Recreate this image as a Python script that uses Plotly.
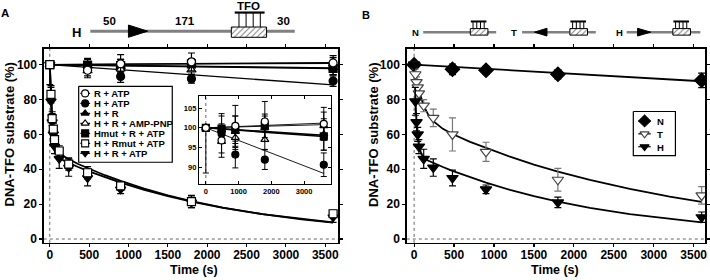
import plotly.graph_objects as go

W, H = 710, 280
FONT = "Liberation Sans, Arial, sans-serif"

# ---------------- data ----------------
# Panel A: control reactions (main panel + inset)
ctrl_t = [0, 480, 900, 1800, 3600]
r_atp = [100, 96.8, 100.5, 101.6, 101.0]
r_atp_err = [0.4, 3.2, 5.2, 5.1, 4.2]
h_atp = [100, 98.5, 93.2, 91.9, 90.6]
h_atp_err_up = [0.4, 2.5, 3.4, 2.5, 3.0]
h_atp_err_dn = [11.5, 2.5, 3.4, 2.5, 3.0]
h_r = [100, 99.5, 99.0, 100.0, 98.3]
h_r_err = [0.4, 3.5, 4.0, 3.0, 4.0]
amp_pnp = [100, 96.5, 97.5, 97.0, 100.5]
amp_pnp_err = [0.4, 4.0, 3.0, 2.5, 3.5]
hmut = [100, 99.8, 99.5, 100.5, 97.8]
hmut_err = [0.4, 3.8, 3.5, 3.0, 3.5]

ctrl_fit_t = [0, 3600]
r_atp_fit = [100, 101.2]
h_atp_fit = [100, 88.4]
h_r_fit = [100, 98.1]
amp_pnp_fit = [100, 100.8]
hmut_fit = [100, 97.8]

# Panel A: displacement kinetics
kin_t = [0, 15, 30, 45, 60, 120, 240, 480, 900, 1800, 3600]
h_r_atp = [100, 79, 67, 60, 53, 46, 41, 35, 28.5, 21, 12.5]
h_r_atp_err = [0.4, 8, 5, 4, 4, 5.5, 5, 4.5, 2.5, 3, 3]
h_rmut_atp = [100, 83, 69, 63, 57, 50.5, 43, 38, 30.5, 21.5, 14.5]
h_rmut_atp_err = [0.4, 5, 4, 3.5, 3.5, 3, 3.5, 3.5, 2.5, 3.5, 2]

# Panel B
n_t = [0, 480, 900, 1800, 3600]
n_sub = [100, 97.3, 96.8, 94.5, 91.0]
n_err = [1.0, 3.0, 2.2, 2.7, 4.2]
t_sub = [100, 94.5, 90, 87, 83.5, 76.5, 69.5, 60, 50, 34, 25]
t_err = [0.4, 3, 3, 3, 3.5, 3.5, 5, 9.5, 5.5, 6.5, 5]
h_sub = [100, 79, 67, 60, 53, 46, 41, 35, 28.5, 21, 12.5]
h_err = [0.4, 8, 5, 4, 4, 5.5, 5, 4.5, 2.5, 3, 3]

# fitted curves
fit_t = [0, 10, 20, 30, 45, 60, 90, 120, 180, 240, 360, 480, 700, 900,
         1200, 1500, 1800, 2200, 2700, 3200, 3600]
h_fit = [100, 84.7, 73.8, 66.0, 58.3, 53.7, 48.9, 46.8, 44.9, 43.6, 41.3,
         39.1, 35.4, 32.3, 28.2, 24.6, 21.5, 17.9, 14.3, 11.4, 9.5]
rmut_fit = [100, 88, 78, 71, 63.5, 58.5, 53, 50.5, 47.5, 45.8, 43, 40.6,
            36.6, 33.3, 28.9, 25.1, 21.8, 18.0, 14.3, 11.3, 9.4]
t_fit = [100, 97.0, 94.1, 91.6, 88.2, 85.2, 80.3, 76.4, 71.1, 67.6, 63.2,
         60.2, 55.7, 52.2, 47.2, 42.7, 38.7, 33.9, 28.7, 24.3, 21.3]
n_fit_t = [0, 1800, 3600]
n_fit = [100, 95.1, 90.5]

x_ticks_main = [0, 500, 1000, 1500, 2000, 2500, 3000, 3500]
y_ticks_main = [0, 20, 40, 60, 80, 100]
x_ticks_inset = [0, 1000, 2000, 3000]
y_ticks_inset = [90, 95, 100, 105]

legend_a_labels = ["R + ATP", "H + ATP", "H + R", "H + R + AMP-PNP",
                   "Hmut + R + ATP", "H + Rmut + ATP", "H + R + ATP"]
legend_b_labels = ["N", "T", "H"]

# ---------------- figure ----------------
fig = go.Figure()
BLACK = "black"


def errbar(arr, minus=None, color=BLACK, width=3.5, thick=1.2):
    d = dict(type="data", array=arr, visible=True, color=color,
             thickness=thick, width=width)
    if minus is not None:
        d["symmetric"] = False
        d["arrayminus"] = minus
    return d


def line(x, y, xa, ya, w=1.8, color=BLACK):
    fig.add_trace(go.Scatter(x=x, y=y, mode="lines", xaxis=xa, yaxis=ya,
                             line=dict(color=color, width=w),
                             showlegend=False, hoverinfo="skip"))


def pts(x, y, xa, ya, symbol, fill, size, err, lc=BLACK):
    fig.add_trace(go.Scatter(x=x, y=y, mode="markers", xaxis=xa, yaxis=ya,
                             marker=dict(symbol=symbol, color=fill, size=size,
                                         line=dict(color=lc, width=1.2)),
                             error_y=err, showlegend=False))


# ---- Panel A main ----
for fy, w in [(h_atp_fit, 1.3), (h_r_fit, 1.5), (hmut_fit, 1.5),
              (amp_pnp_fit, 1.3), (r_atp_fit, 1.3)]:
    line(ctrl_fit_t, fy, "x", "y", w)
line(fit_t, h_fit, "x", "y", 1.8)
line(fit_t, rmut_fit, "x", "y", 1.8)

ctrl_series = [
    (h_atp, errbar(h_atp_err_up, h_atp_err_dn), "circle", BLACK),
    (h_r, errbar(h_r_err), "triangle-up", BLACK),
    (hmut, errbar(hmut_err), "square", BLACK),
    (amp_pnp, errbar(amp_pnp_err), "triangle-up", "white"),
    (r_atp, errbar(r_atp_err), "circle", "white"),
]
for yv, e, sym, fc in ctrl_series:
    pts(ctrl_t, yv, "x", "y", sym, fc, 8, e)
pts(kin_t, h_r_atp, "x", "y", "triangle-down", BLACK, 9, errbar(h_r_atp_err))
pts(kin_t, h_rmut_atp, "x", "y", "square", "white", 8, errbar(h_rmut_atp_err))

# ---- Panel B ----
line(n_fit_t, n_fit, "x2", "y2", 1.8)
line(fit_t, t_fit, "x2", "y2", 1.8)
line(fit_t, h_fit, "x2", "y2", 1.8)
pts(n_t, n_sub, "x2", "y2", "diamond", BLACK, 11, errbar(n_err))
pts(kin_t, t_sub, "x2", "y2", "triangle-down", "white", 10,
    errbar(t_err, color="#777777"), lc="#444444")
pts(kin_t, h_sub, "x2", "y2", "triangle-down", BLACK, 10, errbar(h_err))

# ---- Inset ----
for fy, w in [(h_atp_fit, 0.9), (h_r_fit, 1.6), (hmut_fit, 1.6),
              (amp_pnp_fit, 0.9), (r_atp_fit, 0.9)]:
    line(ctrl_fit_t, fy, "x3", "y3", w)
ctrl_series_in = [
    (h_atp, errbar(h_atp_err_up, h_atp_err_dn, width=3, thick=1), "circle", BLACK),
    (h_r, errbar(h_r_err, width=3, thick=1), "triangle-up", BLACK),
    (hmut, errbar(hmut_err, width=3, thick=1), "square", BLACK),
    (amp_pnp, errbar(amp_pnp_err, width=3, thick=1), "triangle-up", "white"),
    (r_atp, errbar(r_atp_err, width=3, thick=1), "circle", "white"),
]
for yv, e, sym, fc in ctrl_series_in:
    pts(ctrl_t, yv, "x3", "y3", sym, fc, 7, e)

# ---- overlay (pixel coordinates) for diagrams and legend keys ----
def ov_trace(**kw):
    kw.setdefault("showlegend", False)
    kw.setdefault("hoverinfo", "skip")
    fig.add_trace(go.Scatter(xaxis="x4", yaxis="y4", **kw))


def hatched_box(x0, x1, y0, y1):
    ov_trace(x=[x0, x1, x1, x0, x0], y=[y0, y0, y1, y1, y0], mode="lines",
             fill="toself", fillcolor="white",
             fillpattern=dict(shape="/", fgcolor="black", bgcolor="white",
                              size=4, solidity=0.25),
             line=dict(color="black", width=1))


shapes = []


def seg(x0, y0, x1, y1, color="black", w=1, layer="above", dash=None):
    d = dict(type="line", xref="x4", yref="y4", x0=x0, y0=y0, x1=x1, y1=y1,
             line=dict(color=color, width=w), layer=layer)
    if dash:
        d["line"]["dash"] = dash
    shapes.append(d)


def tri(points, layer="above"):
    p = "M " + " L ".join(f"{a},{b}" for a, b in points) + " Z"
    shapes.append(dict(type="path", xref="x4", yref="y4", path=p,
                       fillcolor="black", line=dict(color="black", width=1),
                       layer=layer))


def comb(x0, x1, ytop, ybox, n=4, w=2.2):
    seg(x0, ytop, x1, ytop, w=w)
    step = (x1 - x0) / (n + 0.2)
    for i in range(n):
        xx = x0 + step * (i + 0.6)
        seg(xx, ytop, xx, ybox, w=1)


GRAY = "#808080"
# Panel A diagram
seg(90.7, 31.7, 296, 31.7, color=GRAY, w=3, layer="below")
tri([(129, 25.3), (148.3, 31.5), (129, 37.7)])
hatched_box(232.3, 267.7, 27.3, 37.7)
comb(235.7, 265.7, 12.7, 27.3)

# Panel B diagrams
yB = 32.5
for (lx0, lx1, bx0) in [(425, 498.3, 472.3), (524.3, 598.3, 572.3),
                        (629.3, 703.3, 675.7)]:
    seg(lx0, yB, lx1, yB, color=GRAY, w=2.5, layer="below")
    hatched_box(bx0, bx0 + 17.7, 28.9, 35.5)
    comb(bx0 + 0.5, bx0 + 16.2, 21.7, 28.9, w=2)
tri([(536.7, yB), (549.3, 28.6), (549.3, 36.4)])
tri([(640.3, 28.6), (653.5, yB), (640.3, 36.4)])

# Legend A box and keys
ov_trace(x=[79, 173, 173, 79, 79], y=[87.3, 87.3, 164, 164, 87.3],
         mode="lines", fill="toself", fillcolor="white",
         line=dict(color="black", width=1.2))
key_a = [("circle", "white"), ("circle", BLACK), ("triangle-up", BLACK),
         ("triangle-up", "white"), ("square", BLACK), ("square", "white"),
         ("triangle-down", BLACK)]
annotations = []
for i, (lab, (sym, fc)) in enumerate(zip(legend_a_labels, key_a)):
    yy = 94.4 + 10.1 * i
    ov_trace(x=[80.7, 90.5], y=[yy, yy], mode="lines",
             line=dict(color="black", width=1.2))
    ov_trace(x=[85.5], y=[yy], mode="markers",
             marker=dict(symbol=sym, color=fc, size=7,
                         line=dict(color="black", width=1.1)))
    annotations.append(dict(xref="x4", yref="y4", x=92, y=yy + 0.3, text=lab,
                            showarrow=False, xanchor="left", yanchor="middle",
                            font=dict(family=FONT, size=9.5, color="black",
                                      weight="bold")))

# Legend B box and keys
ov_trace(x=[636, 678.3, 678.3, 636, 636], y=[112.7, 112.7, 157.3, 157.3, 112.7],
         mode="lines", fill="toself", fillcolor="white",
         line=dict(color="black", width=1.2))
key_b = [("diamond", BLACK, BLACK, 9), ("triangle-down", "white", "#444444", 8),
         ("triangle-down", BLACK, BLACK, 8)]
for i, (lab, (sym, fc, lc, sz)) in enumerate(zip(legend_b_labels, key_b)):
    yy = 122.3 + 13 * i
    ov_trace(x=[641, 653.5], y=[yy, yy], mode="lines",
             line=dict(color="black", width=1.2))
    ov_trace(x=[647.3], y=[yy], mode="markers",
             marker=dict(symbol=sym, color=fc, size=sz,
                         line=dict(color=lc, width=1.1)))
    annotations.append(dict(xref="x4", yref="y4", x=658, y=yy + 0.3, text=lab,
                            showarrow=False, xanchor="left", yanchor="middle",
                            font=dict(family=FONT, size=9.5, color="black",
                                      weight="bold")))


def txt(x, y, s, size, angle=0):
    annotations.append(dict(xref="x4", yref="y4", x=x, y=y, text=s,
                            showarrow=False, xanchor="center",
                            yanchor="middle", textangle=angle,
                            font=dict(family=FONT, size=size, color="black",
                                      weight="bold")))


txt(5.5, 13.5, "A", 11.5)
txt(368, 15.5, "B", 11)
txt(77, 32.5, "H", 13)
txt(110, 21.5, "50", 11.5)
txt(185.7, 21.5, "171", 11.5)
txt(284.3, 21.5, "30", 11.5)
txt(250, 6, "TFO", 11.5)
txt(417.7, 33, "N", 9.5)
txt(516.5, 33, "T", 9.5)
txt(622, 33, "H", 9.5)
txt(195, 273, "Time (s)", 12.5)
txt(557, 273, "Time (s)", 12.5)
txt(10, 136, "DNA-TFO substrate (%)", 13, -90)
txt(375, 136, "DNA-TFO substrate (%)", 13, -90)

# dotted zero guides
for xa, ya in [("x", "y"), ("x2", "y2")]:
    shapes.append(dict(type="line", xref=xa, yref=ya + " domain", x0=0, x1=0,
                       y0=0, y1=1, layer="below",
                       line=dict(color="#666666", width=1, dash="dot")))
    shapes.append(dict(type="line", xref=xa + " domain", yref=ya, x0=0, x1=1,
                       y0=0, y1=0, layer="below",
                       line=dict(color="#666666", width=1, dash="dot")))
shapes.append(dict(type="line", xref="x3", yref="y3 domain", x0=0, x1=0,
                   y0=0, y1=1, layer="below",
                   line=dict(color="#666666", width=1, dash="dot")))

tickfont = dict(family=FONT, size=12, color="black", weight="bold")
tickfont_in = dict(family=FONT, size=7.5, color="black", weight="bold")
YDOM = [1 - 245.5 / 280, 1 - 49.5 / 280]
YR = [-2.2, 109.0]

common = dict(showline=True, linecolor="black", linewidth=1.5, mirror="ticks",
              ticks="outside", ticklen=3, tickwidth=1.2, tickcolor="black",
              showgrid=False, zeroline=False, fixedrange=True)
common_in = dict(showline=True, linecolor="black", linewidth=1.3, mirror="ticks",
                 ticks="inside", ticklen=3, tickwidth=1, tickcolor="black",
                 showgrid=False, zeroline=False, fixedrange=True)

fig.update_layout(
    width=W, height=H,
    margin=dict(l=0, r=0, t=0, b=0),
    paper_bgcolor="white", plot_bgcolor="rgba(0,0,0,0)",
    showlegend=False,
    xaxis=dict(domain=[44 / W, 339.5 / W], range=[-76, 3663], anchor="y",
               tickvals=x_ticks_main, tickfont=tickfont,
               ticklabelstandoff=-3, **common),
    yaxis=dict(domain=YDOM, range=YR, anchor="x",
               tickvals=y_ticks_main, tickfont=tickfont, **common),
    xaxis2=dict(domain=[408.5 / W, 708 / W], range=[-92, 3642], anchor="y2",
                tickvals=x_ticks_main, tickfont=tickfont,
                ticklabelstandoff=-3, **common),
    yaxis2=dict(domain=YDOM, range=YR, anchor="x2",
                tickvals=y_ticks_main, tickfont=tickfont, **common),
    xaxis3=dict(domain=[200 / W, 332 / W], range=[-204, 3808], anchor="y3",
                tickvals=x_ticks_inset, tickfont=tickfont_in, **common_in),
    yaxis3=dict(domain=[1 - 186 / 280, 1 - 97 / 280], range=[85.7, 108.1],
                anchor="x3", tickvals=y_ticks_inset, tickfont=tickfont_in,
                **common_in),
    xaxis4=dict(domain=[0, 1], range=[0, W], anchor="y4", visible=False,
                fixedrange=True),
    yaxis4=dict(domain=[0, 1], range=[H, 0], anchor="x4", visible=False,
                fixedrange=True),
    shapes=shapes,
    annotations=annotations,
)

fig.write_html("out.html",
               config={"displayModeBar": False, "staticPlot": True},
               post_script="document.body.style.margin='0';"
                           "document.body.style.padding='0';")
